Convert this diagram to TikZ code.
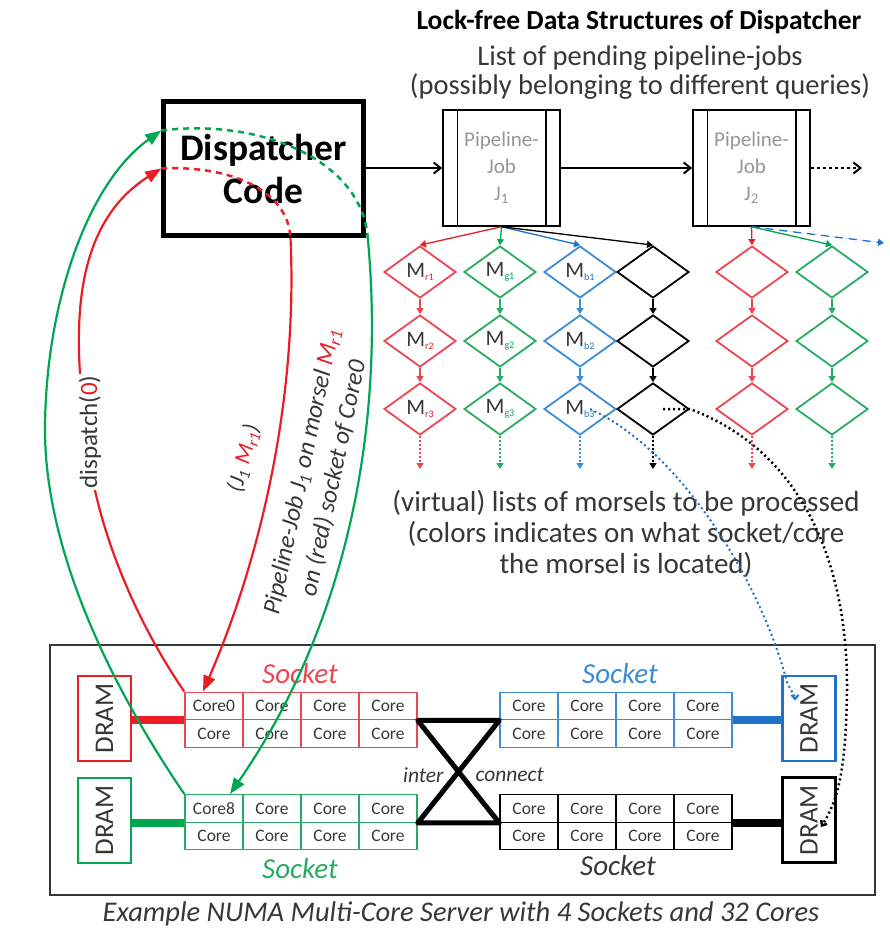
\documentclass[tikz,border=0pt]{standalone}
\usepackage{fontspec}
\usepackage{graphicx}
\setmainfont{Carlito}
\usetikzlibrary{arrows.meta,shapes.geometric,calc}
\definecolor{cred}{RGB}{236,28,36}
\definecolor{credl}{RGB}{238,70,80}
\definecolor{cgreen}{RGB}{0,166,81}
\definecolor{cgreenl}{RGB}{40,172,100}
\definecolor{cblue}{RGB}{30,115,200}
\definecolor{cbluel}{RGB}{60,140,215}
\definecolor{tgray}{RGB}{55,55,55}
\definecolor{jgray}{RGB}{150,150,150}
\newcommand{\msub}[2]{M\raisebox{-3pt}{\fontsize{10}{10}\selectfont\textcolor{#1}{#2}}}
\begin{document}
\begin{tikzpicture}[x=1pt,y=-1pt,
  arr/.style={-{Straight Barb[length=7pt,width=11pt]}, line width=2pt},
  marr/.style={-{Triangle[length=6pt,width=7pt]}, line width=1.3pt},
  bigarr/.style={-{Triangle[length=16pt,width=12pt]}, line width=2.2pt},
  dia/.style={diamond, draw, line width=1.8pt, minimum width=72pt, minimum height=52pt, inner sep=0pt, aspect=1.4},
  core/.style={draw, minimum width=58pt, minimum height=27.5pt, inner sep=0pt, line width=1.4pt, font=\fontsize{17.5}{17.5}\selectfont, text=tgray},
  dram/.style={draw, line width=2.5pt, minimum width=53pt, minimum height=85pt, inner sep=0pt, font=\fontsize{27}{27}\selectfont, text=tgray},
  job/.style={draw, line width=1.5pt, minimum width=117pt, minimum height=116pt, inner sep=0pt, align=center, font=\fontsize{21}{27}\selectfont, text=jgray},
  mlab/.style={font=\fontsize{22}{22}\selectfont, text=tgray},
  sock/.style={font=\itshape\fontsize{29}{29}\selectfont},
  body/.style={font=\fontsize{29}{31}\selectfont, text=tgray, align=center}
]
\useasboundingbox (0,0) rectangle (890,932);

% ---------- top texts ----------
\node[font=\bfseries\fontsize{27.5}{30}\selectfont] (title) at (639,22) {Lock-free Data Structures of Dispatcher};
\node[body, font=\fontsize{28.5}{29}\selectfont] (sub) at (640,73) {List of pending pipeline-jobs\\(possibly belonging to different queries)};

% ---------- dispatcher and jobs ----------
\node[draw, line width=4.5pt, minimum width=200pt, minimum height=134pt, inner sep=0pt, align=center,
      font=\bfseries\fontsize{37.5}{43}\selectfont] (disp) at (263.5,168.5) {Dispatcher\\Code};
\node[job] (job1) at (501.5,168) {Pipeline-\\Job\\J\textsubscript{1}};
\node[job] (job2) at (751.5,168) {Pipeline-\\Job\\J\textsubscript{2}};
\foreach \j in {job1,job2} {
  \draw[line width=1.5pt] ([xshift=15pt]\j.north west) -- ([xshift=15pt]\j.south west);
  \draw[line width=1.5pt] ([xshift=-15pt]\j.north east) -- ([xshift=-15pt]\j.south east);
}
\coordinate (jend) at (862,168);
\draw[arr] (disp.east |- job1.west) -- (job1.west);
\draw[arr] (job1.east) -- (job2.west);
\draw[arr, dash pattern=on 3pt off 3pt] (job2.east) -- (jend);

% ---------- morsel diamonds ----------
\foreach \c/\x/\col in {1/420/credl,2/500/cgreenl,3/580/cbluel,4/653/black,5/752/credl,6/832/cgreenl} {
  \foreach \r/\y in {1/272,2/341,3/409} {
    \node[dia, draw=\col] (d\c\r) at (\x,\y) {};
  }
  \draw[marr, draw=\col, fill=\col] (d\c1.south) -- (d\c2.north);
  \draw[marr, draw=\col, fill=\col] (d\c2.south) -- (d\c3.north);
  \coordinate (e\c) at (\x,469);
  \draw[marr, draw=\col, fill=\col, dash pattern=on 2pt off 2pt] (d\c3.south) -- (e\c);
}
\foreach \c/\l/\col in {1/r/cred,2/g/cgreen,3/b/cblue} {
  \foreach \r in {1,2,3} {
    \node[mlab] at (d\c\r) {\msub{\col}{\l\r}};
  }
}
\coordinate (jb) at (884,243);
\draw[marr, draw=cred, fill=cred] (job1.south) -- (d11.north);
\draw[marr, draw=cgreen, fill=cgreen] (job1.south) -- (d21.north);
\draw[marr, draw=cblue, fill=cblue] (job1.south) -- (d31.north);
\draw[marr, draw=black, fill=black] (job1.south) -- (d41.north);
\draw[marr, draw=cred, fill=cred] (job2.south) -- (d51.north);
\draw[marr, draw=cgreen, fill=cgreen] (job2.south) -- (d61.north);
\draw[marr, draw=cblue, fill=cblue, dash pattern=on 8pt off 6pt] (job2.south) -- (jb);

% ---------- middle text ----------
\node[body] (vl) at (626,534) {(virtual) lists of morsels to be processed\\(colors indicates on what socket/core\\the morsel is located)};

% ---------- server ----------
\node[draw=tgray, line width=1.5pt, minimum width=825pt, minimum height=250pt, inner sep=0pt] (server) at (462.5,770) {};
\node[font=\itshape\fontsize{28.5}{28.5}\selectfont, text=tgray] (cap) at (461,914) {Example NUMA Multi-Core Server with 4 Sockets and 32 Cores};

\node[dram, draw=cred] (dramr) at (104.5,718.5) {\rotatebox{90}{DRAM}};
\node[dram, draw=cgreen] (dramg) at (104.5,820.5) {\rotatebox{90}{DRAM}};
\node[dram, draw=cblue] (dramb) at (809,718.5) {\rotatebox{90}{DRAM}};
\node[dram, draw=black] (dramk) at (809,820) {\rotatebox{90}{DRAM}};

\foreach \i in {0,...,3} {
  \node[core, draw=credl] (r\i) at (214+58*\i,706) {\ifnum\i=0 Core0\else Core\fi};
  \node[core, draw=credl] (rb\i) at (214+58*\i,733.5) {Core};
  \node[core, draw=cgreenl] (g\i) at (214+58*\i,808.5) {\ifnum\i=0 Core8\else Core\fi};
  \node[core, draw=cgreenl] (gb\i) at (214+58*\i,836) {Core};
  \node[core, draw=cbluel] (b\i) at (529+58*\i,706) {Core};
  \node[core, draw=cbluel] (bb\i) at (529+58*\i,733.5) {Core};
  \node[core, draw=black] (k\i) at (529+58*\i,808.5) {Core};
  \node[core, draw=black] (kb\i) at (529+58*\i,836) {Core};
}
\node[sock, text=credl] at (300,674) {Socket};
\node[sock, text=cgreenl] at (300,869) {Socket};
\node[sock, text=cbluel] at (620,674) {Socket};
\node[sock, text=tgray] at (618,866) {Socket};

\draw[line width=8pt, cred] (dramr.east |- r0.south west) -- (r0.south west);
\draw[line width=8pt, cgreen] (dramg.east |- g0.south west) -- (g0.south west);
\draw[line width=8pt, cblue] (b3.south east) -- (dramb.west |- b3.south east);
\draw[line width=8pt, black] (k3.south east) -- (dramk.west |- k3.south east);

\draw[line width=5pt, line join=round] (r3.south east) -- (b0.south west) -- (g3.south east) -- (k0.south west) -- cycle;
\node[font=\itshape\fontsize{21.5}{21.5}\selectfont, text=tgray, anchor=east] at (447,775) {inter};
\node[font=\itshape\fontsize{21.5}{21.5}\selectfont, text=tgray, anchor=west] at (472,775) {connect};

% ---------- dispatch loops ----------
% red loop
\draw[cred, line width=2.2pt] (r0.north west) .. controls (135,620) and (92,520) .. (86,430);
\draw[bigarr, cred] (86,430) .. controls (72,330) and (72,225) .. (disp.west);
\draw[cred, line width=2.5pt, dash pattern=on 6pt off 5pt] (disp.west) .. controls (230,165) and (288,190) .. ([xshift=27pt]disp.south);
\draw[bigarr, cred] ([xshift=27pt]disp.south) .. controls (298,400) and (260,560) .. ([xshift=-11pt]r0.north);
% green loop
\draw[cgreen, line width=2.2pt] (g0.north west) .. controls (100,670) and (45,540) .. (45,430);
\draw[bigarr, cgreen] (45,430) .. controls (45,310) and (85,185) .. ([yshift=38pt]disp.west);
\draw[cgreen, line width=2.5pt, dash pattern=on 6pt off 5pt] ([yshift=38pt]disp.west) .. controls (260,118) and (362,160) .. ([xshift=2pt]disp.south east);
\draw[bigarr, cgreen] ([xshift=2pt]disp.south east) .. controls (385,420) and (350,620) .. ([xshift=16pt]g0.north);

\node[rotate=90, fill=white, inner sep=1pt, font=\fontsize{25}{25}\selectfont, text=tgray] (dl) at (90,432) {dispatch(\textcolor{cred}{0})};
\node[rotate=75, font=\itshape\fontsize{23}{23}\selectfont, text=tgray] (jl) at (244,458) {(J\textsubscript{1} \textcolor{cred}{M\textsubscript{r1}})};
\node[rotate=78, align=center, font=\itshape\fontsize{25}{32}\selectfont, text=tgray] (pl) at (318,475) {Pipeline-Job J\textsubscript{1} on morsel \textcolor{cred}{M\textsubscript{r1}}\\on (red) socket of Core0};

% ---------- dotted morsel-location curves ----------
\draw[cblue, line width=2pt, dash pattern=on 2pt off 3pt, -{Straight Barb[length=4pt,width=7pt]}]
  ([xshift=10pt]d33.center) .. controls (680,450) and (760,580) .. (787,682) .. controls (790,690) and (795,695) .. ([xshift=-14pt,yshift=18pt]dramb.center);
\draw[black, line width=2.5pt, dash pattern=on 2pt off 3pt, -{Straight Barb[length=4pt,width=7pt]}]
  ([xshift=10pt]d43.center) -- (d43.east) .. controls (800,450) and (848,560) .. (847,690) .. controls (846,770) and (838,800) .. ([xshift=12pt,yshift=-7pt]dramk.center);
\end{tikzpicture}
\end{document}
